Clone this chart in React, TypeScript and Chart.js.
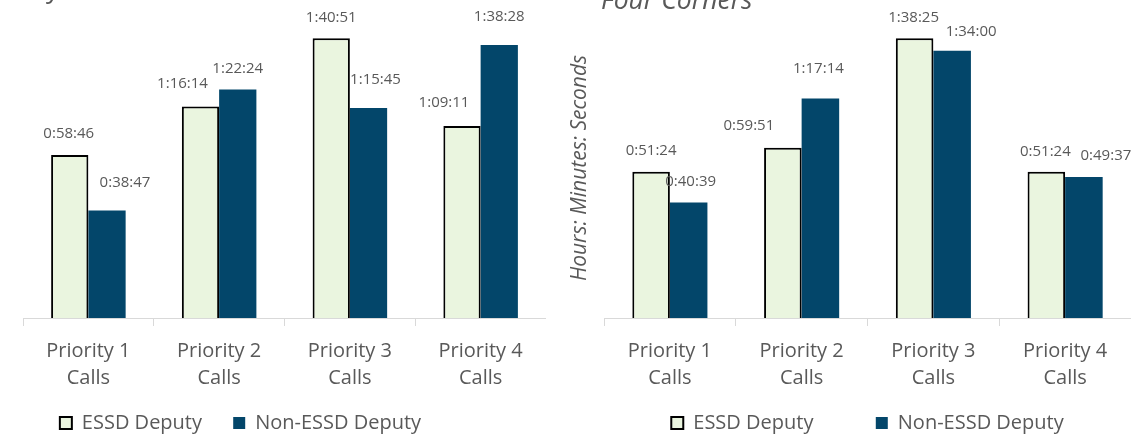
import { useEffect, useRef } from "react";
import { Chart, registerables } from "chart.js";

Chart.register(...registerables);

const FONT = '"Open Sans", "Noto Sans", sans-serif';
const TEXT = "#595959";
const ESSD_FILL = "#EAF5DF";
const ESSD_EDGE = "#000000";
const NON_FILL = "#03466A";
const AXIS_LINE = "#D9D9D9";

// ---- data ----
const categories = [
  ["Priority 1", "Calls"],
  ["Priority 2", "Calls"],
  ["Priority 3", "Calls"],
  ["Priority 4", "Calls"],
];
const seriesNames = ["ESSD Deputy", "Non-ESSD Deputy"];
const yAxisTitle = "Hours: Minutes: Seconds";

const leftTitle = "Gallatin County";
const leftEssd = ["0:58:46", "1:16:14", "1:40:51", "1:09:11"];
const leftNon = ["0:38:47", "1:22:24", "1:15:45", "1:38:28"];

const rightTitle = "Four Corners";
const rightEssd = ["0:51:24", "0:59:51", "1:38:25", "0:51:24"];
const rightNon = ["0:40:39", "1:17:14", "1:34:00", "0:49:37"];

// ---- layout config (label nudges in px, relative to bar top) ----
const leftNudges = [
  [[-1, 0], [-18, -2], [0, 0], [-18, -2]],
  [[18, -7], [0, 0], [7, -7], [0, -7]],
];
const rightNudges = [
  [[0, 0], [-34, -1], [-1, 1], [-1, 1]],
  [[2, 0], [-2, -9], [19, 2], [22, 0]],
];

function toSeconds(t: string): number {
  const [h, m, s] = t.split(":").map(Number);
  return h * 3600 + m * 60 + s;
}

const decorPlugin = {
  id: "decor",
  afterDatasetsDraw(chart: any, _args: any, opts: any) {
    const ctx = chart.ctx;
    ctx.save();
    ctx.font = `15px ${FONT}`;
    ctx.fillStyle = TEXT;
    ctx.textAlign = "center";
    ctx.textBaseline = "middle";
    chart.data.datasets.forEach((_ds: any, di: number) => {
      const meta = chart.getDatasetMeta(di);
      meta.data.forEach((el: any, i: number) => {
        const [dx, dy] = opts.nudges[di][i];
        ctx.fillText(opts.labels[di][i], el.x + dx, el.y - 21 + dy);
      });
    });
    ctx.font = `italic 26.5px ${FONT}`;
    ctx.textAlign = opts.titleAlign;
    ctx.textBaseline = "alphabetic";
    ctx.fillText(opts.title, opts.titleX, opts.titleY);
    ctx.restore();
  },
};

type PanelCfg = {
  title: string;
  titleX: number;
  titleY: number;
  titleAlign: string;
  essd: string[];
  non: string[];
  yMax: number;
  legendFull: boolean;
  legendSpaces: number;
  yTitleSize: number;
  titlePadTop: number;
  titlePadBottom: number;
  nudges: number[][][];
};

const LEGEND_PAD = 26;

function makeChart(canvas: HTMLCanvasElement, cfg: PanelCfg) {
  const xHeight = 95 - LEGEND_PAD;
  return new Chart(canvas, {
    type: "bar",
    data: {
      labels: categories,
      datasets: [
        {
          label: seriesNames[0],
          data: cfg.essd.map(toSeconds),
          backgroundColor: ESSD_FILL,
          borderColor: ESSD_EDGE,
          borderWidth: 2,
          categoryPercentage: 0.57,
          barPercentage: 1,
        },
        {
          label: seriesNames[1],
          data: cfg.non.map(toSeconds),
          backgroundColor: NON_FILL,
          borderColor: NON_FILL,
          borderWidth: 0,
          categoryPercentage: 0.57,
          barPercentage: 1,
        },
      ],
    },
    options: {
      responsive: false,
      animation: false,
      events: [],
      layout: { padding: { top: 18, left: 0, right: 0, bottom: 0 } },
      scales: {
        x: {
          offset: true,
          grid: {
            display: true,
            drawOnChartArea: false,
            drawTicks: true,
            tickLength: 8,
            color: AXIS_LINE,
            lineWidth: 1,
          },
          border: { display: true, color: AXIS_LINE, width: 1 },
          ticks: {
            color: TEXT,
            font: { family: FONT, size: 20, lineHeight: 1.35 },
            padding: 12,
            maxRotation: 0,
            autoSkip: false,
          },
          afterFit: (s: any) => {
            s.height = xHeight;
          },
        },
        y: {
          min: 0,
          max: cfg.yMax,
          display: true,
          ticks: { display: false },
          grid: { display: false, drawTicks: false },
          border: { display: false },
          title: {
            display: true,
            text: yAxisTitle,
            color: TEXT,
            font: { family: FONT, size: cfg.yTitleSize, style: "italic", lineHeight: 1.2 },
            padding: { top: cfg.titlePadTop, bottom: cfg.titlePadBottom },
          },
        },
      },
      plugins: {
        tooltip: { enabled: false },
        title: { display: false },
        legend: {
          display: true,
          position: "bottom",
          fullSize: cfg.legendFull,
          labels: {
            color: TEXT,
            font: { family: FONT, size: 20 },
            boxWidth: 12,
            boxHeight: 12,
            padding: LEGEND_PAD,
            generateLabels: (chart: any) => {
              const items = (Chart.defaults.plugins.legend.labels as any).generateLabels(chart);
              items[0].text = items[0].text + " ".repeat(cfg.legendSpaces);
              return items;
            },
          },
        },
        decor: {
          nudges: cfg.nudges,
          labels: [cfg.essd, cfg.non],
          title: cfg.title,
          titleX: cfg.titleX,
          titleY: cfg.titleY,
          titleAlign: cfg.titleAlign,
        },
      } as any,
    },
    plugins: [decorPlugin],
  } as any);
}

export default function App() {
  const leftRef = useRef<HTMLCanvasElement>(null);
  const rightRef = useRef<HTMLCanvasElement>(null);

  useEffect(() => {
    const left = makeChart(leftRef.current!, {
      title: leftTitle,
      titleX: 126,
      titleY: -3,
      titleAlign: "right",
      essd: leftEssd,
      non: leftNon,
      yMax: 6490,
      legendFull: true,
      legendSpaces: 1,
      yTitleSize: 21,
      titlePadTop: 28,
      titlePadBottom: 34.8,
      nudges: leftNudges,
    });
    const right = makeChart(rightRef.current!, {
      title: rightTitle,
      titleX: 41,
      titleY: 9,
      titleAlign: "left",
      essd: rightEssd,
      non: rightNon,
      yMax: 6330,
      legendFull: false,
      legendSpaces: 7,
      yTitleSize: 21,
      titlePadTop: 7.4,
      titlePadBottom: 11.4,
      nudges: rightNudges,
    });
    return () => {
      left.destroy();
      right.destroy();
    };
  }, []);

  return (
    <div
      style={{
        position: "fixed",
        left: 0,
        top: 0,
        width: 1145,
        height: 436,
        overflow: "hidden",
        background: "#ffffff",
      }}
    >
      <canvas
        ref={leftRef}
        width={611}
        height={443}
        style={{ position: "absolute", left: -65, top: 0 }}
      />
      <canvas
        ref={rightRef}
        width={571}
        height={443}
        style={{ position: "absolute", left: 560, top: 0 }}
      />
    </div>
  );
}
